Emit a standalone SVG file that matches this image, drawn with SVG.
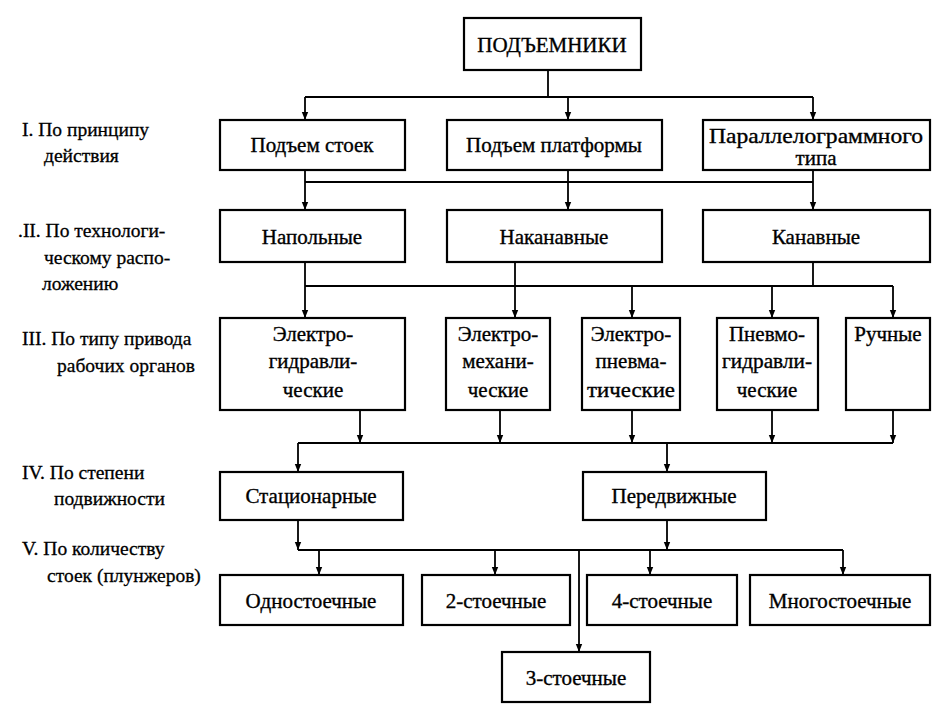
<svg xmlns="http://www.w3.org/2000/svg" width="933" height="716" viewBox="0 0 933 716">
<defs>
<marker id="arr" viewBox="0 0 10 10" refX="10" refY="5" markerWidth="8" markerHeight="10" markerUnits="userSpaceOnUse" orient="auto">
<path d="M0,1 L10,5 L0,9 Z" fill="#000"/>
</marker>
<style>
.box{fill:#fff;stroke:#000;stroke-width:2.2}
.t{font-family:"Liberation Serif","Times New Roman",serif;font-size:21px;fill:#000;stroke:#000;stroke-width:0.35;text-anchor:middle}
.l{font-family:"Liberation Serif","Times New Roman",serif;font-size:19.5px;fill:#000;stroke:#000;stroke-width:0.3}
.c{fill:none;stroke:#000;stroke-width:1.8}
.a{fill:none;stroke:#000;stroke-width:1.8;marker-end:url(#arr)}
</style>
</defs>
<rect width="933" height="716" fill="#fff"/>

<g id="labels">
<text class="l" x="22" y="136">I. По принципу</text>
<text class="l" x="44" y="162">действия</text>
<text class="l" x="18" y="237">.II. По технологи-</text>
<text class="l" x="44" y="264">ческому распо-</text>
<text class="l" x="42" y="290">ложению</text>
<text class="l" x="22" y="345">III. По типу привода</text>
<text class="l" x="57" y="372">рабочих органов</text>
<text class="l" x="22" y="479">IV. По степени</text>
<text class="l" x="54" y="505">подвижности</text>
<text class="l" x="22" y="555">V. По количеству</text>
<text class="l" x="47" y="582">стоек (плунжеров)</text>
</g>

<g id="connectors">
<path class="c" d="M548,70 V97 M305,97 H813"/>
<path class="a" d="M305,97 V120"/>
<path class="a" d="M568,97 V120"/>
<path class="a" d="M813,97 V120"/>
<path class="c" d="M305,170 V182 M568,170 V182 M813,170 V182 M305,182 H813"/>
<path class="a" d="M305,182 V210"/>
<path class="a" d="M568,182 V210"/>
<path class="a" d="M813,182 V210"/>
<path class="c" d="M305,262 V286 M515,262 V286 M813,262 V286 M305,286 H893"/>
<path class="a" d="M305,286 V318"/>
<path class="a" d="M515,286 V318"/>
<path class="a" d="M632,286 V318"/>
<path class="a" d="M772,286 V318"/>
<path class="a" d="M893,286 V318"/>
<path class="a" d="M360,410 V443"/>
<path class="a" d="M500,410 V443"/>
<path class="a" d="M632,410 V443"/>
<path class="a" d="M772,410 V443"/>
<path class="a" d="M893,410 V443"/>
<path class="c" d="M298,443 H893"/>
<path class="a" d="M298,443 V472"/>
<path class="a" d="M667,443 V472"/>
<path class="a" d="M298,520 V550"/>
<path class="a" d="M667,520 V550"/>
<path class="c" d="M298,550 H843"/>
<path class="a" d="M319,550 V575"/>
<path class="a" d="M495,550 V575"/>
<path class="a" d="M650,550 V575"/>
<path class="a" d="M843,550 V575"/>
<path class="a" d="M579,550 V652"/>
</g>

<g id="root"><rect class="box" x="464" y="18" width="177" height="52"/><text class="t" x="552" y="52">ПОДЪЕМНИКИ</text></g>

<g id="n-stoek"><rect class="box" x="220" y="120" width="185" height="50"/><text class="t" x="312" y="152">Подъем стоек</text></g>
<g id="n-platf"><rect class="box" x="447" y="120" width="215" height="50"/><text class="t" x="554" y="152">Подъем платформы</text></g>
<g id="n-parall"><rect class="box" x="703" y="120" width="227" height="50"/><text class="t" x="816" y="143" textLength="214" lengthAdjust="spacingAndGlyphs">Параллелограммного</text><text class="t" x="816" y="165">типа</text></g>

<g id="n-napol"><rect class="box" x="220" y="210" width="185" height="52"/><text class="t" x="312" y="244">Напольные</text></g>
<g id="n-nakan"><rect class="box" x="447" y="210" width="215" height="52"/><text class="t" x="554" y="244">Наканавные</text></g>
<g id="n-kan"><rect class="box" x="703" y="210" width="227" height="52"/><text class="t" x="816" y="244">Канавные</text></g>

<g id="n-elgidr"><rect class="box" x="220" y="318" width="185" height="92"/><text class="t" x="313" y="341">Электро-</text><text class="t" x="313" y="368">гидравли-</text><text class="t" x="313" y="397">ческие</text></g>
<g id="n-elmeh"><rect class="box" x="446" y="318" width="104" height="92"/><text class="t" x="498" y="341">Электро-</text><text class="t" x="498" y="368">механи-</text><text class="t" x="498" y="397">ческие</text></g>
<g id="n-elpn"><rect class="box" x="582" y="318" width="98" height="92"/><text class="t" x="631" y="341">Электро-</text><text class="t" x="631" y="368">пневма-</text><text class="t" x="631" y="397" textLength="88" lengthAdjust="spacingAndGlyphs">тические</text></g>
<g id="n-pngidr"><rect class="box" x="717" y="318" width="101" height="92"/><text class="t" x="767" y="341">Пневмо-</text><text class="t" x="767" y="368" textLength="90" lengthAdjust="spacingAndGlyphs">гидравли-</text><text class="t" x="767" y="397">ческие</text></g>
<g id="n-ruch"><rect class="box" x="846" y="318" width="84" height="92"/><text class="t" x="888" y="341">Ручные</text></g>

<g id="n-stac"><rect class="box" x="220" y="472" width="183" height="48"/><text class="t" x="311" y="503">Стационарные</text></g>
<g id="n-pered"><rect class="box" x="583" y="472" width="183" height="48"/><text class="t" x="674" y="503">Передвижные</text></g>

<g id="n-odno"><rect class="box" x="220" y="575" width="183" height="50"/><text class="t" x="311" y="608">Одностоечные</text></g>
<g id="n-2"><rect class="box" x="422" y="575" width="148" height="50"/><text class="t" x="496" y="608">2-стоечные</text></g>
<g id="n-4"><rect class="box" x="587" y="575" width="150" height="50"/><text class="t" x="662" y="608">4-стоечные</text></g>
<g id="n-mnogo"><rect class="box" x="750" y="575" width="180" height="50"/><text class="t" x="840" y="608">Многостоечные</text></g>
<g id="n-3"><rect class="box" x="502" y="652" width="148" height="50"/><text class="t" x="576" y="685">3-стоечные</text></g>
</svg>
